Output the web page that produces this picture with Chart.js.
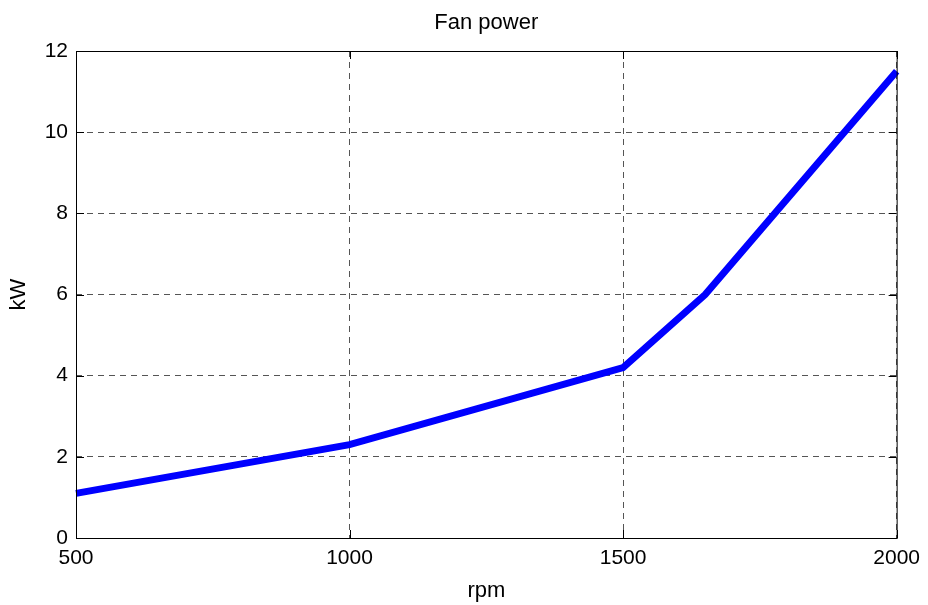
<!DOCTYPE html>
<html>
<head>
<meta charset="utf-8">
<script src="https://cdn.jsdelivr.net/npm/chart.js@4"></script>
<style>
  html, body { margin: 0; padding: 0; background: #fff; }
  #wrap { width: 928px; height: 605px; }
</style>
</head>
<body>
<div id="wrap"><canvas id="chart"></canvas></div>
<script>
// data
const rpm = [500, 1000, 1500, 1650, 2000];
const kW = [1.1, 2.3, 4.2, 6.0, 11.5];
const xTicks = [500, 1000, 1500, 2000];
const yTicks = [0, 2, 4, 6, 8, 10, 12];

const FONT = "'Liberation Sans', Arial, sans-serif";

// box, inward ticks and title like the matlab figure
const frame = {
  id: "frame",
  afterDraw(chart) {
    const { ctx, chartArea: a } = chart;
    const xs = chart.scales.x, ys = chart.scales.y;
    ctx.save();
    ctx.strokeStyle = "#000";
    ctx.lineWidth = 1;
    ctx.strokeRect(a.left + 0.5, a.top + 0.5, a.right - a.left, a.bottom - a.top);
    ctx.beginPath();
    xTicks.forEach(v => {
      const px = Math.round(xs.getPixelForValue(v)) + 0.5;
      ctx.moveTo(px, a.bottom); ctx.lineTo(px, a.bottom - 8);
      ctx.moveTo(px, a.top); ctx.lineTo(px, a.top + 8);
    });
    yTicks.forEach(v => {
      const py = Math.round(ys.getPixelForValue(v)) + 0.5;
      ctx.moveTo(a.left, py); ctx.lineTo(a.left + 8, py);
      ctx.moveTo(a.right, py); ctx.lineTo(a.right - 8, py);
    });
    ctx.stroke();
    ctx.fillStyle = "#000";
    ctx.font = "22px " + FONT;
    ctx.textAlign = "center";
    ctx.textBaseline = "middle";
    ctx.fillText("Fan power", (a.left + a.right) / 2, 23);
    ctx.restore();
  }
};

new Chart(document.getElementById("chart"), {
  type: "line",
  data: {
    datasets: [{
      data: rpm.map((x, i) => ({ x: x, y: kW[i] })),
      borderColor: "#0000ff",
      borderWidth: 7,
      pointRadius: 0,
      tension: 0,
      fill: false,
      clip: 4
    }]
  },
  options: {
    responsive: true,
    maintainAspectRatio: false,
    animation: false,
    layout: { padding: { top: 51, right: 29, left: 0, bottom: 0 } },
    plugins: { legend: { display: false }, tooltip: { enabled: false }, title: { display: false } },
    scales: {
      x: {
        type: "linear",
        min: 500,
        max: 2000,
        afterBuildTicks: (s) => { s.ticks = xTicks.map(v => ({ value: v })); },
        afterFit: (s) => { s.height = 67; },
        grid: { color: "#555", drawTicks: false, lineWidth: 1 },
        border: { display: false, dash: [6, 5] },
        ticks: { color: "#000", font: { family: FONT, size: 21 }, padding: 8, maxRotation: 0, autoSkip: false, callback: (v) => String(v) },
        title: { display: true, text: "rpm", color: "#000", font: { family: FONT, size: 22 }, padding: { top: 4, bottom: 1 } }
      },
      y: {
        min: 0,
        max: 12,
        afterBuildTicks: (s) => { s.ticks = yTicks.map(v => ({ value: v })); },
        afterFit: (s) => { s.width = 76; },
        grid: { color: "#555", drawTicks: false, lineWidth: 1 },
        border: { display: false, dash: [6, 5] },
        ticks: { color: "#000", font: { family: FONT, size: 21 }, padding: 8, callback: (v) => String(v) },
        title: { display: true, text: "kW", color: "#000", font: { family: FONT, size: 22 }, padding: { top: 6, bottom: 0 } }
      }
    }
  },
  plugins: [frame]
});
</script>
</body>
</html>
